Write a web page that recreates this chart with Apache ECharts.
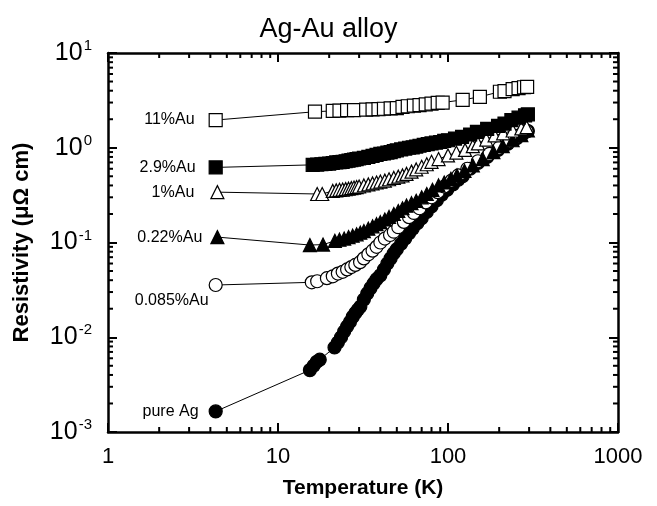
<!DOCTYPE html>
<html>
<head>
<meta charset="utf-8">
<script src="https://cdn.jsdelivr.net/npm/echarts@6.0.0/dist/echarts.min.js"></script>
<style>
  html, body { margin: 0; padding: 0; background: #fff; }
  #chart { width: 657px; height: 506px; }
</style>
</head>
<body>
<div id="chart"></div>
<script>
// temperatures (K) and resistivity (uOhm cm)
const t11 = [4.3, 16.5, 21, 23, 25.5, 28, 33, 36, 39, 42, 46, 50, 54, 58, 63, 68, 74, 80, 87, 93, 122, 154, 202, 215, 240, 260, 280, 292]
const r11 = [1.96, 2.4, 2.45, 2.47, 2.49, 2.5, 2.52, 2.54, 2.56, 2.58, 2.6, 2.62, 2.7, 2.74, 2.78, 2.82, 2.87, 2.92, 2.97, 3.0, 3.2, 3.45, 3.9, 3.95, 4.15, 4.25, 4.35, 4.4]

const t29 = [4.3, 16, 17, 18, 19, 20, 21, 22, 23, 24, 25, 26, 27, 28, 29, 30, 32, 34, 36, 38, 40, 42, 44, 46, 48, 50, 53, 56, 59, 62, 65, 68, 72, 76, 80, 85, 90, 95, 100, 110, 121, 135, 148, 170, 197, 215, 236, 260, 284, 295]
const r29 = [0.62, 0.66, 0.665, 0.67, 0.675, 0.68, 0.69, 0.7, 0.705, 0.71, 0.72, 0.73, 0.74, 0.75, 0.76, 0.77, 0.78, 0.8, 0.82, 0.84, 0.86, 0.87, 0.89, 0.9, 0.92, 0.94, 0.96, 0.98, 1.0, 1.01, 1.03, 1.05, 1.07, 1.09, 1.11, 1.13, 1.15, 1.18, 1.2, 1.25, 1.3, 1.38, 1.47, 1.58, 1.7, 1.8, 1.96, 2.08, 2.2, 2.25]

const t1 = [4.4, 17, 18.2, 21, 22, 23, 24, 25, 26, 27, 28, 29, 30, 32, 34, 36, 38, 40, 42.5, 45, 48, 51, 54, 57, 61, 65, 70, 75, 80, 88, 100, 112, 126, 140, 150, 168, 188, 211, 240, 270, 290]
const r1 = [0.34, 0.325, 0.325, 0.35, 0.355, 0.36, 0.362, 0.366, 0.37, 0.375, 0.38, 0.385, 0.39, 0.4, 0.41, 0.42, 0.43, 0.44, 0.45, 0.465, 0.48, 0.495, 0.51, 0.53, 0.56, 0.59, 0.63, 0.67, 0.71, 0.76, 0.83, 0.89, 0.95, 1.04, 1.11, 1.22, 1.35, 1.42, 1.52, 1.6, 1.65]

const t022 = [4.4, 15.4, 18.4, 21.6, 23, 24.5, 26, 27.5, 29, 30.5, 32, 34, 36, 38, 40, 42.5, 45, 48, 51, 54, 57, 61, 65, 70, 75, 81, 88, 95, 104, 113, 125, 140, 160, 185, 210, 240, 270, 295]
const r022 = [0.114, 0.094, 0.095, 0.104, 0.107, 0.11, 0.114, 0.118, 0.122, 0.127, 0.132, 0.14, 0.148, 0.156, 0.164, 0.175, 0.186, 0.2, 0.215, 0.23, 0.245, 0.26, 0.275, 0.3, 0.325, 0.36, 0.4, 0.43, 0.47, 0.51, 0.57, 0.65, 0.76, 0.9, 1.04, 1.2, 1.36, 1.52]

const t0085 = [4.3, 15.8, 17, 19.4, 21, 22.5, 24, 25.5, 27, 28.5, 30.4, 32, 34, 36, 38, 40, 42.5, 45.6, 48, 51, 55, 59, 63, 68, 74, 80, 87, 95, 105, 115, 130, 150, 175, 200, 230, 260, 290]
const r0085 = [0.0356, 0.038, 0.039, 0.042, 0.044, 0.047, 0.049, 0.052, 0.055, 0.058, 0.062, 0.068, 0.075, 0.082, 0.09, 0.1, 0.11, 0.12, 0.13, 0.145, 0.165, 0.185, 0.205, 0.23, 0.265, 0.3, 0.34, 0.39, 0.45, 0.51, 0.6, 0.72, 0.86, 1.0, 1.17, 1.34, 1.5]

const tAg = [4.3, 15.4, 16.2, 16.9, 17.6, 21.5, 22.5, 23.5, 24.5, 25.5, 26.5, 27.5, 28.5, 29.5, 30.5, 32, 33.5, 35, 36.5, 38, 40, 42, 44, 46, 48, 50, 53, 56, 59, 62, 66, 70, 75, 80, 86, 92, 99, 107, 115, 122, 135, 150, 170, 197, 225, 254, 276, 295]
const rAg = [0.00165, 0.0045, 0.005, 0.0055, 0.0058, 0.0078, 0.0088, 0.01, 0.0115, 0.013, 0.0145, 0.0164, 0.018, 0.0195, 0.021, 0.025, 0.029, 0.033, 0.037, 0.041, 0.045, 0.052, 0.06, 0.068, 0.077, 0.085, 0.097, 0.11, 0.125, 0.14, 0.16, 0.18, 0.21, 0.24, 0.28, 0.32, 0.36, 0.41, 0.46, 0.5, 0.6, 0.69, 0.8, 0.95, 1.1, 1.26, 1.4, 1.5]

const xMinor = [2, 3, 4, 5, 6, 7, 8, 9, 20, 30, 40, 50, 60, 70, 80, 90, 200, 300, 400, 500, 600, 700, 800, 900]
const yMinor = [0.002, 0.003, 0.004, 0.005, 0.006, 0.007, 0.008, 0.009, 0.02, 0.03, 0.04, 0.05, 0.06, 0.07, 0.08, 0.09, 0.2, 0.3, 0.4, 0.5, 0.6, 0.7, 0.8, 0.9, 2, 3, 4, 5, 6, 7, 8, 9]

const X_MIN = 1, X_MAX = 1000, Y_MIN = 0.001, Y_MAX = 10
const FONT = 'Liberation Sans'

function makeSeries(name, xs, ys, symbol, filled, labelOpt) {
  const data = xs.map((x, i) => [x, ys[i]])
  data[0] = {
    value: data[0],
    label: Object.assign({
      show: true,
      formatter: name,
      position: 'left',
      distance: 12,
      color: '#000',
      fontFamily: FONT,
      fontSize: 16
    }, labelOpt || {})
  }
  return {
    name: name,
    type: 'line',
    data: data,
    symbol: symbol,
    symbolSize: 13,
    lineStyle: { color: '#000', width: 1 },
    itemStyle: {
      color: filled ? '#000' : '#fff',
      borderColor: '#000',
      borderWidth: 1.2
    },
    emphasis: { disabled: true },
    z: 3
  }
}

function minorTicks(params, api) {
  const horiz = api.value(2) === 0
  const v = api.value(horiz ? 0 : 1)
  const st = { stroke: '#000', lineWidth: 2 }
  if (horiz) {
    const b = api.coord([v, Y_MIN])
    const t = api.coord([v, Y_MAX])
    return { type: 'group', children: [
      { type: 'line', shape: { x1: b[0], y1: b[1], x2: b[0], y2: b[1] - 5 }, style: st },
      { type: 'line', shape: { x1: t[0], y1: t[1], x2: t[0], y2: t[1] + 5 }, style: st }
    ] }
  }
  const l = api.coord([X_MIN, v])
  const r = api.coord([X_MAX, v])
  return { type: 'group', children: [
    { type: 'line', shape: { x1: l[0], y1: l[1], x2: l[0] + 5, y2: l[1] }, style: st },
    { type: 'line', shape: { x1: r[0], y1: r[1], x2: r[0] - 5, y2: r[1] }, style: st }
  ] }
}

const tickData = xMinor.map(v => [v, Y_MIN, 0]).concat(yMinor.map(v => [X_MIN, v, 1]))

const axisLineStyle = { show: true, lineStyle: { color: '#000', width: 2.5 } }
const majorTick = { show: true, inside: true, length: 9, lineStyle: { color: '#000', width: 2 } }

const chart = echarts.init(document.getElementById('chart'))

const option = {
  animation: false,
  backgroundColor: '#fff',
  title: {
    text: 'Ag-Au alloy',
    left: 'center',
    top: 11,
    textStyle: { fontFamily: FONT, fontSize: 27, fontWeight: 'normal', color: '#000' }
  },
  grid: { left: 108, right: 39, top: 53, bottom: 74, containLabel: false, outerBoundsMode: 'none' },
  xAxis: [
    {
      type: 'log',
      logBase: 10,
      min: X_MIN,
      max: X_MAX,
      position: 'bottom',
      axisLine: axisLineStyle,
      axisTick: majorTick,
      splitLine: { show: false },
      axisLabel: {
        margin: 14,
        color: '#000',
        fontFamily: FONT,
        fontSize: 22,
        formatter: v => String(Math.round(v))
      },
      name: 'Temperature (K)',
      nameLocation: 'middle',
      nameGap: 46,
      nameMoveOverlap: false,
      nameTextStyle: { fontFamily: FONT, fontSize: 21, fontWeight: 'bold', color: '#000' }
    },
    {
      type: 'log',
      logBase: 10,
      min: X_MIN,
      max: X_MAX,
      position: 'top',
      axisLine: axisLineStyle,
      axisTick: majorTick,
      axisLabel: { show: false },
      splitLine: { show: false }
    }
  ],
  yAxis: [
    {
      type: 'log',
      logBase: 10,
      min: Y_MIN,
      max: Y_MAX,
      position: 'left',
      axisLine: axisLineStyle,
      axisTick: majorTick,
      splitLine: { show: false },
      axisLabel: {
        margin: 16,
        color: '#000',
        fontFamily: FONT,
        fontSize: 24,
        formatter: v => '{b|10}{s|' + Math.round(Math.log10(v)) + '}',
        rich: {
          b: { fontFamily: FONT, fontSize: 25, color: '#000' },
          s: { fontFamily: FONT, fontSize: 15, color: '#000', padding: [0, 0, 14, 1] }
        }
      },
      name: 'Resistivity (μΩ cm)',
      nameLocation: 'middle',
      nameGap: 75,
      nameMoveOverlap: false,
      nameTextStyle: { fontFamily: FONT, fontSize: 22, fontWeight: 'bold', color: '#000' }
    },
    {
      type: 'log',
      logBase: 10,
      min: Y_MIN,
      max: Y_MAX,
      position: 'right',
      axisLine: axisLineStyle,
      axisTick: majorTick,
      axisLabel: { show: false },
      splitLine: { show: false }
    }
  ],
  series: [
    {
      type: 'custom',
      renderItem: minorTicks,
      data: tickData,
      encode: { x: 0, y: 1 },
      silent: true,
      clip: false,
      z: 1
    },
    makeSeries('pure Ag', tAg, rAg, 'circle', true, { distance: 10 }),
    makeSeries('0.085%Au', t0085, r0085, 'circle', false, { offset: [4, 16], distance: 4 }),
    makeSeries('0.22%Au', t022, r022, 'triangle', true, { distance: 8 }),
    makeSeries('1%Au', t1, r1, 'triangle', false, { distance: 16 }),
    makeSeries('2.9%Au', t29, r29, 'rect', true, { distance: 13 }),
    makeSeries('11%Au', t11, r11, 'rect', false, { distance: 14 })
  ]
}

chart.setOption(option)
</script>
</body>
</html>
